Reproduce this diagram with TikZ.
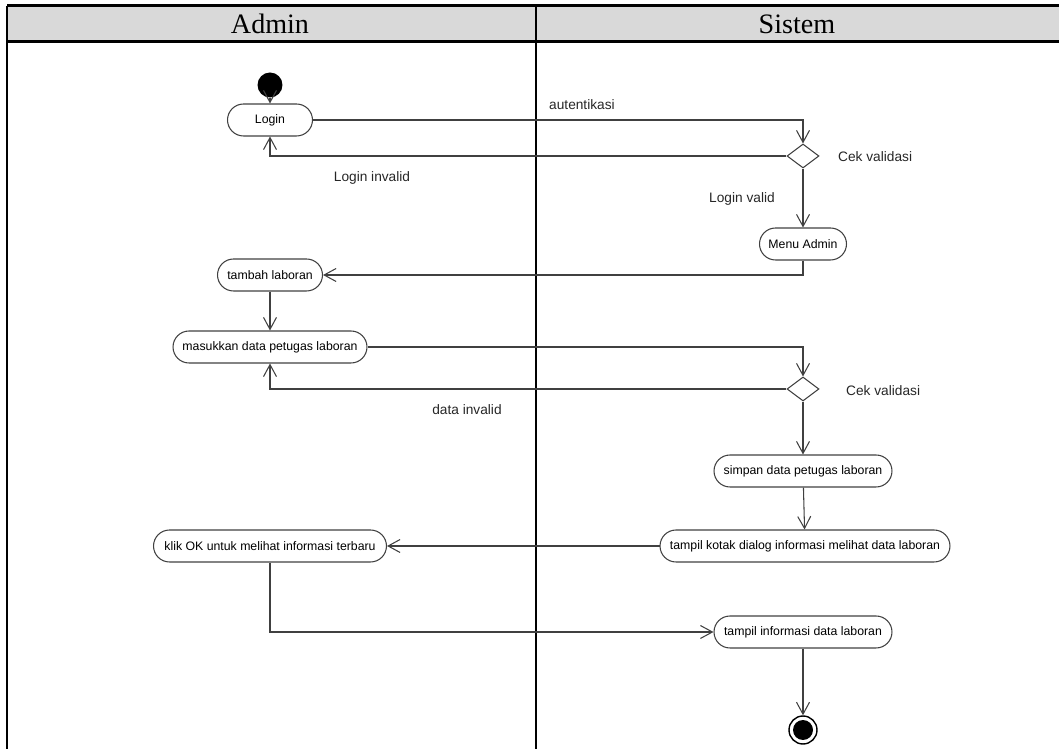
\documentclass[tikz,border=0pt]{standalone}
\usepackage{fontspec}
\setmainfont{Liberation Serif}
\newfontfamily\diagfont{Liberation Sans}
\usetikzlibrary{arrows.meta, shapes.geometric}

\definecolor{linegray}{HTML}{404040}
\definecolor{headgray}{HTML}{D9D9D9}

\tikzset{
	act/.style = {draw=linegray, line width=0.6pt, rounded corners=3.2mm, minimum height=6.4mm, inner sep=0pt, font=\diagfont\fontsize{7}{8}\selectfont},
	flow/.style = {draw=linegray, line width=0.6pt, -{Straight Barb[length=2.4mm, width=2.6mm]}},
	cek/.style = {diamond, draw=linegray, line width=0.6pt, minimum width=6.4mm, minimum height=4.8mm, inner sep=0pt},
	lbl/.style = {font=\diagfont\fontsize{7.8}{9}\selectfont, text=black!85},
	lane/.style = {line width=1.7pt},
	head/.style = {font=\fontsize{16}{18}\selectfont},
}

\begin{document}
\begin{tikzpicture}[x=0.02cm, y=-0.02cm]
			\useasboundingbox (0,0) rectangle (1059,749);
			\begin{scope}[lane]
				\fill[headgray] (7,6) rectangle (1059,42);
				\draw (7,6) -- (1059,6);
				\draw (7,42) -- (1059,42);
				\draw (7,6) -- (7,749);
				\draw (536,6) -- (536,749);
			\end{scope}
			\node[head] (admin) at (270,24) {Admin};
			\node[head] (sistem) at (797,24) {Sistem};

			\node[circle, fill=black, minimum size=5mm, inner sep=0pt] (start) at (270,85) {};
			\node[act, minimum width=1.7cm] (login) at (270,120) {Login};
			\node[cek] (cek1) at (803,156) {};
			\node[act, minimum width=1.74cm] (menu) at (803,244) {Menu Admin};
			\node[act, minimum width=2.1cm] (tambah) at (270,275) {tambah laboran};
			\node[act, minimum width=3.88cm] (masuk) at (270,347) {masukkan data petugas laboran};
			\node[cek] (cek2) at (803,389) {};
			\node[act, minimum width=3.56cm] (simpan) at (803,471) {simpan data petugas laboran};
			\node[act, minimum width=5.8cm] (kotak) at (805,546) {tampil kotak dialog informasi melihat data laboran};
			\node[act, minimum width=4.66cm] (klik) at (270,546) {klik OK untuk melihat informasi terbaru};
			\node[act, minimum width=3.56cm] (info) at (803,632) {tampil informasi data laboran};
			\node[circle, draw=black, line width=0.8pt, minimum size=5.6mm, inner sep=0pt,
				path picture={\fill (path picture bounding box.center) circle (2mm);}] (end) at (803,730) {};

			\node[lbl, anchor=west] (autent) at (543,105) {autentikasi};
			\node[lbl, anchor=west] (cektxt1) at (832,157) {Cek validasi};
			\node[lbl] (invalid1) at (372,178) {Login invalid};
			\node[lbl] (valid1) at (742,199) {Login valid};
			\node[lbl, anchor=west] (cektxt2) at (840,391) {Cek validasi};
			\node[lbl] (invalid2) at (467,410) {data invalid};

			\draw[flow] (start) -- (login);
			\draw[flow] (login) -| (cek1);
			\draw[flow] (cek1) -| (login);
			\draw[flow] (cek1) -- (menu);
			\draw[flow] (menu) |- (tambah);
			\draw[flow] (tambah) -- (masuk);
			\draw[flow] (masuk) -| (cek2);
			\draw[flow] (cek2) -| (masuk);
			\draw[flow] (cek2) -- (simpan);
			\draw[flow] (simpan) -- (kotak);
			\draw[flow] (kotak) -- (klik);
			\draw[flow] (klik) |- (info);
			\draw[flow] (info) -- (end);
		\end{tikzpicture}
\end{document}
